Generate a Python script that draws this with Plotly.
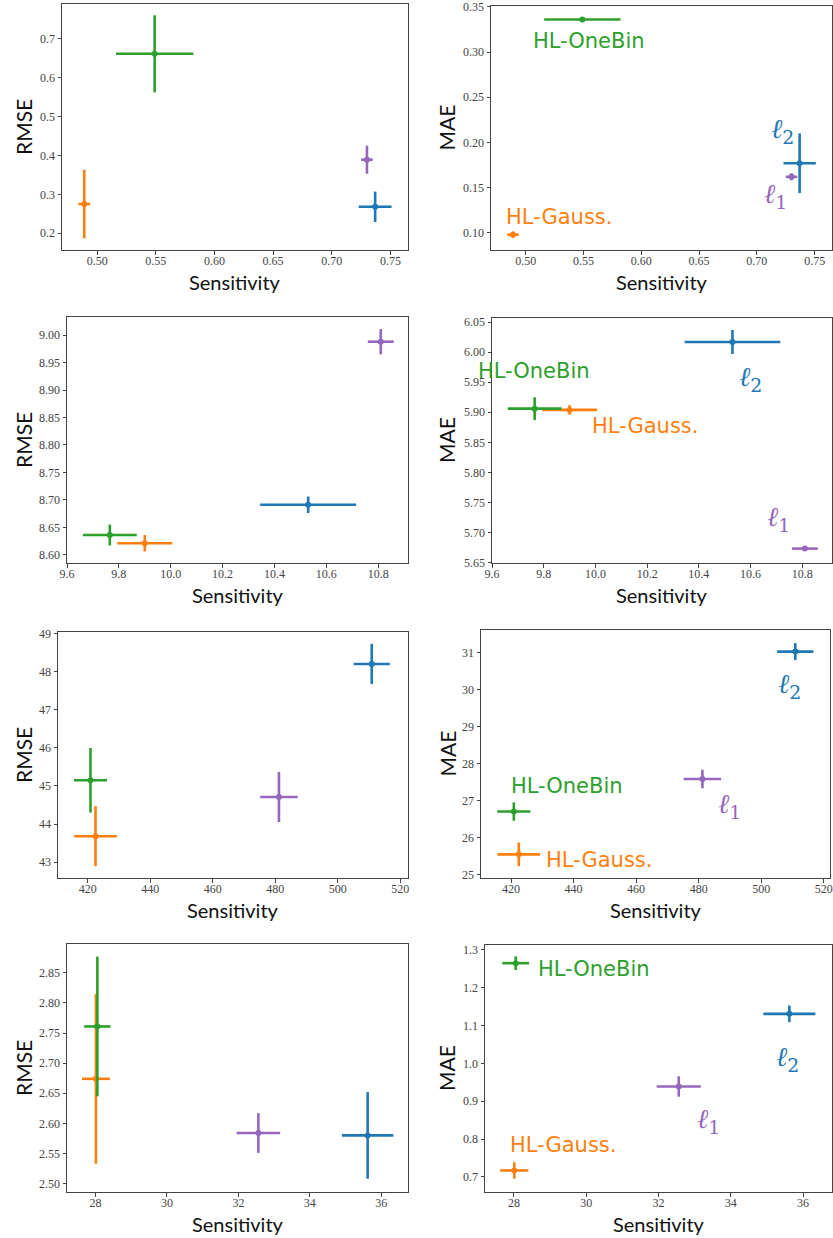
import plotly.graph_objects as go

W, H = 833, 1238

# ---------------- data ----------------
series_names = ["l2", "l1", "HL-Gauss.", "HL-OneBin"]
series_colors = ["#1f77b4", "#9467bd", "#ff7f0e", "#2ca02c"]

# sensitivity (x) per row: [l2, l1, HL-Gauss., HL-OneBin]
sens_r1 = [0.737, 0.730, 0.489, 0.549]
sens_r1_err = [0.014, 0.005, 0.005, 0.033]
sens_r2 = [10.53, 10.81, 9.90, 9.765]
sens_r2_err = [0.185, 0.05, 0.106, 0.104]
sens_r3 = [510.9, 481.2, 422.5, 420.9]
sens_r3_err = [5.8, 6.0, 6.8, 5.3]
sens_r4 = [35.62, 32.56, 28.01, 28.05]
sens_r4_err = [0.72, 0.61, 0.39, 0.37]

rmse_r1 = [0.268, 0.389, 0.275, 0.661]
rmse_r1_err = [0.039, 0.036, 0.088, 0.099]
mae_r1 = [0.177, 0.162, 0.098, 0.336]
mae_r1_err = [0.033, 0.004, 0.0035, 0.002]

rmse_r2 = [8.691, 8.988, 8.621, 8.636]
rmse_r2_err = [0.015, 0.023, 0.015, 0.019]
mae_r2 = [6.017, 5.673, 5.904, 5.906]
mae_r2_err = [0.020, 0.002, 0.008, 0.019]

rmse_r3 = [48.21, 44.71, 43.68, 45.15]
rmse_r3_err = [0.53, 0.66, 0.79, 0.85]
mae_r3 = [31.03, 27.58, 25.54, 26.70]
mae_r3_err = [0.23, 0.25, 0.32, 0.25]

rmse_r4 = [2.580, 2.584, 2.674, 2.761]
rmse_r4_err = [0.072, 0.033, 0.141, 0.116]
mae_r4 = [1.131, 0.939, 0.717, 1.265]
mae_r4_err = [0.022, 0.027, 0.022, 0.018]

x_title = "Sensitivity"
y_titles = ["RMSE", "MAE"]
label_texts = ["<i>ℓ</i><sub>2</sub>", "<i>ℓ</i><sub>1</sub>", "HL-Gauss.", "HL-OneBin"]

# ---------------- layout geometry ----------------
panels = [
    dict(x=sens_r1, xe=sens_r1_err, y=rmse_r1, ye=rmse_r1_err, box=[62, 408, 4, 250],
         xr=[0.470, 0.765], yr=[0.157, 0.789], xd=0.05, x0=0.5, xf=".2f", yd=0.1, y0=0.2, yf=".1f", yt=0),
    dict(x=sens_r1, xe=sens_r1_err, y=mae_r1, ye=mae_r1_err, box=[491, 832, 6, 250],
         xr=[0.470, 0.765], yr=[0.081, 0.351], xd=0.05, x0=0.5, xf=".2f", yd=0.05, y0=0.1, yf=".2f", yt=1),
    dict(x=sens_r2, xe=sens_r2_err, y=rmse_r2, ye=rmse_r2_err, box=[67, 408, 317, 563],
         xr=[9.6, 10.915], yr=[8.585, 9.033], xd=0.2, x0=9.6, xf=".1f", yd=0.05, y0=8.6, yf=".2f", yt=0),
    dict(x=sens_r2, xe=sens_r2_err, y=mae_r2, ye=mae_r2_err, box=[492, 832, 318, 563],
         xr=[9.6, 10.915], yr=[5.649, 6.057], xd=0.2, x0=9.6, xf=".1f", yd=0.05, y0=5.65, yf=".2f", yt=1),
    dict(x=sens_r3, xe=sens_r3_err, y=rmse_r3, ye=rmse_r3_err, box=[58, 408, 632, 878],
         xr=[410.5, 522.5], yr=[42.58, 49.05], xd=20, x0=420, xf="d", yd=1, y0=43, yf="d", yt=0),
    dict(x=sens_r3, xe=sens_r3_err, y=mae_r3, ye=mae_r3_err, box=[481, 830, 630, 878],
         xr=[410.4, 522.0], yr=[24.9, 31.615], xd=20, x0=420, xf="d", yd=1, y0=25, yf="d", yt=1),
    dict(x=sens_r4, xe=sens_r4_err, y=rmse_r4, ye=rmse_r4_err, box=[67, 408, 944, 1192],
         xr=[27.2, 36.75], yr=[2.486, 2.898], xd=2, x0=28, xf="d", yd=0.05, y0=2.5, yf=".2f", yt=0),
    dict(x=sens_r4, xe=sens_r4_err, y=mae_r4, ye=mae_r4_err, box=[485, 832, 945, 1192],
         xr=[27.2, 36.8], yr=[0.660, 1.313], xd=2, x0=28, xf="d", yd=0.1, y0=0.7, yf=".1f", yt=1),
]

# label anchor positions (data coords) for the MAE panels
label_pos = {
    1: [(0.7225, 0.213), (0.716, 0.1414), (0.529, 0.1177), (0.5546, 0.3118)],
    3: [(10.60, 5.956), (10.709, 5.7225), (10.19, 5.877), (9.763, 5.9695)],
    5: [(509.0, 30.1), (489.8, 26.87), (448.0, 25.38), (438.0, 27.40)],
    7: [(35.58, 1.013), (33.39, 0.850), (29.36, 0.784), (30.22, 1.249)],
}

fig = go.Figure()
annotations = []
tick_font = dict(family="Liberation Serif, DejaVu Serif, serif", size=12, color="#444444")
title_font = dict(family="Lato, DejaVu Sans, sans-serif", size=20, color="#111111")

for i, p in enumerate(panels):
    k = "" if i == 0 else str(i + 1)
    xa, ya = "x" + k, "y" + k
    x0p, x1p, y0p, y1p = p["box"]
    dom_x = [x0p / W, x1p / W]
    dom_y = [1 - y1p / H, 1 - y0p / H]
    axis_common = dict(showline=True, mirror=True, linecolor="#444444", linewidth=1,
                       ticks="outside", ticklen=3.5, tickcolor="#444444", tickwidth=1,
                       showgrid=False, zeroline=False, tickfont=tick_font, automargin=False,
                       ticklabeloverflow="allow")
    fig.layout["xaxis" + k] = dict(domain=dom_x, range=p["xr"], anchor=ya, ticklabelstandoff=-4,
                                   tick0=p["x0"], dtick=p["xd"], tickformat=p["xf"], **axis_common)
    fig.layout["yaxis" + k] = dict(domain=dom_y, range=p["yr"], anchor=xa,
                                   tick0=p["y0"], dtick=p["yd"], tickformat=p["yf"], **axis_common)
    for j in range(len(series_names)):
        fig.add_trace(go.Scatter(
            x=[p["x"][j]], y=[p["y"][j]], mode="markers", xaxis=xa, yaxis=ya,
            marker=dict(color=series_colors[j], size=6),
            error_x=dict(type="data", array=[p["xe"][j]], color=series_colors[j], thickness=2.6, width=0),
            error_y=dict(type="data", array=[p["ye"][j]], color=series_colors[j], thickness=2.6, width=0),
            showlegend=False, name=series_names[j], cliponaxis=False))
    annotations.append(dict(text=x_title, xref="paper", yref="paper",
                            x=(x0p + x1p) / 2 / W, y=1 - (y1p + 32) / H,
                            showarrow=False, xanchor="center", yanchor="middle", font=title_font))
    ytx = 23 if p["yt"] == 0 else 446.5
    annotations.append(dict(text=y_titles[p["yt"]], xref="paper", yref="paper",
                            x=ytx / W, y=1 - (y0p + y1p) / 2 / H, textangle=-90,
                            showarrow=False, xanchor="center", yanchor="middle",
                            font=dict(title_font, size=21)))
    if i in label_pos:
        for j, (lx, ly) in enumerate(label_pos[i]):
            is_math = j < 2
            annotations.append(dict(
                text=label_texts[j], xref=xa, yref=ya, x=lx, y=ly, showarrow=False,
                xanchor="center", yanchor="middle",
                font=dict(family=("DejaVu Serif, serif" if is_math else "DejaVu Sans, sans-serif"),
                          size=(27 if is_math else 21), color=series_colors[j])))

fig.update_layout(width=W, height=H, margin=dict(l=0, r=0, t=0, b=0, autoexpand=False),
                  paper_bgcolor="white", plot_bgcolor="white",
                  annotations=annotations, showlegend=False)

fig.write_html("out.html", config={"displayModeBar": False},
               post_script="document.body.style.margin='0';document.body.style.padding='0';")
